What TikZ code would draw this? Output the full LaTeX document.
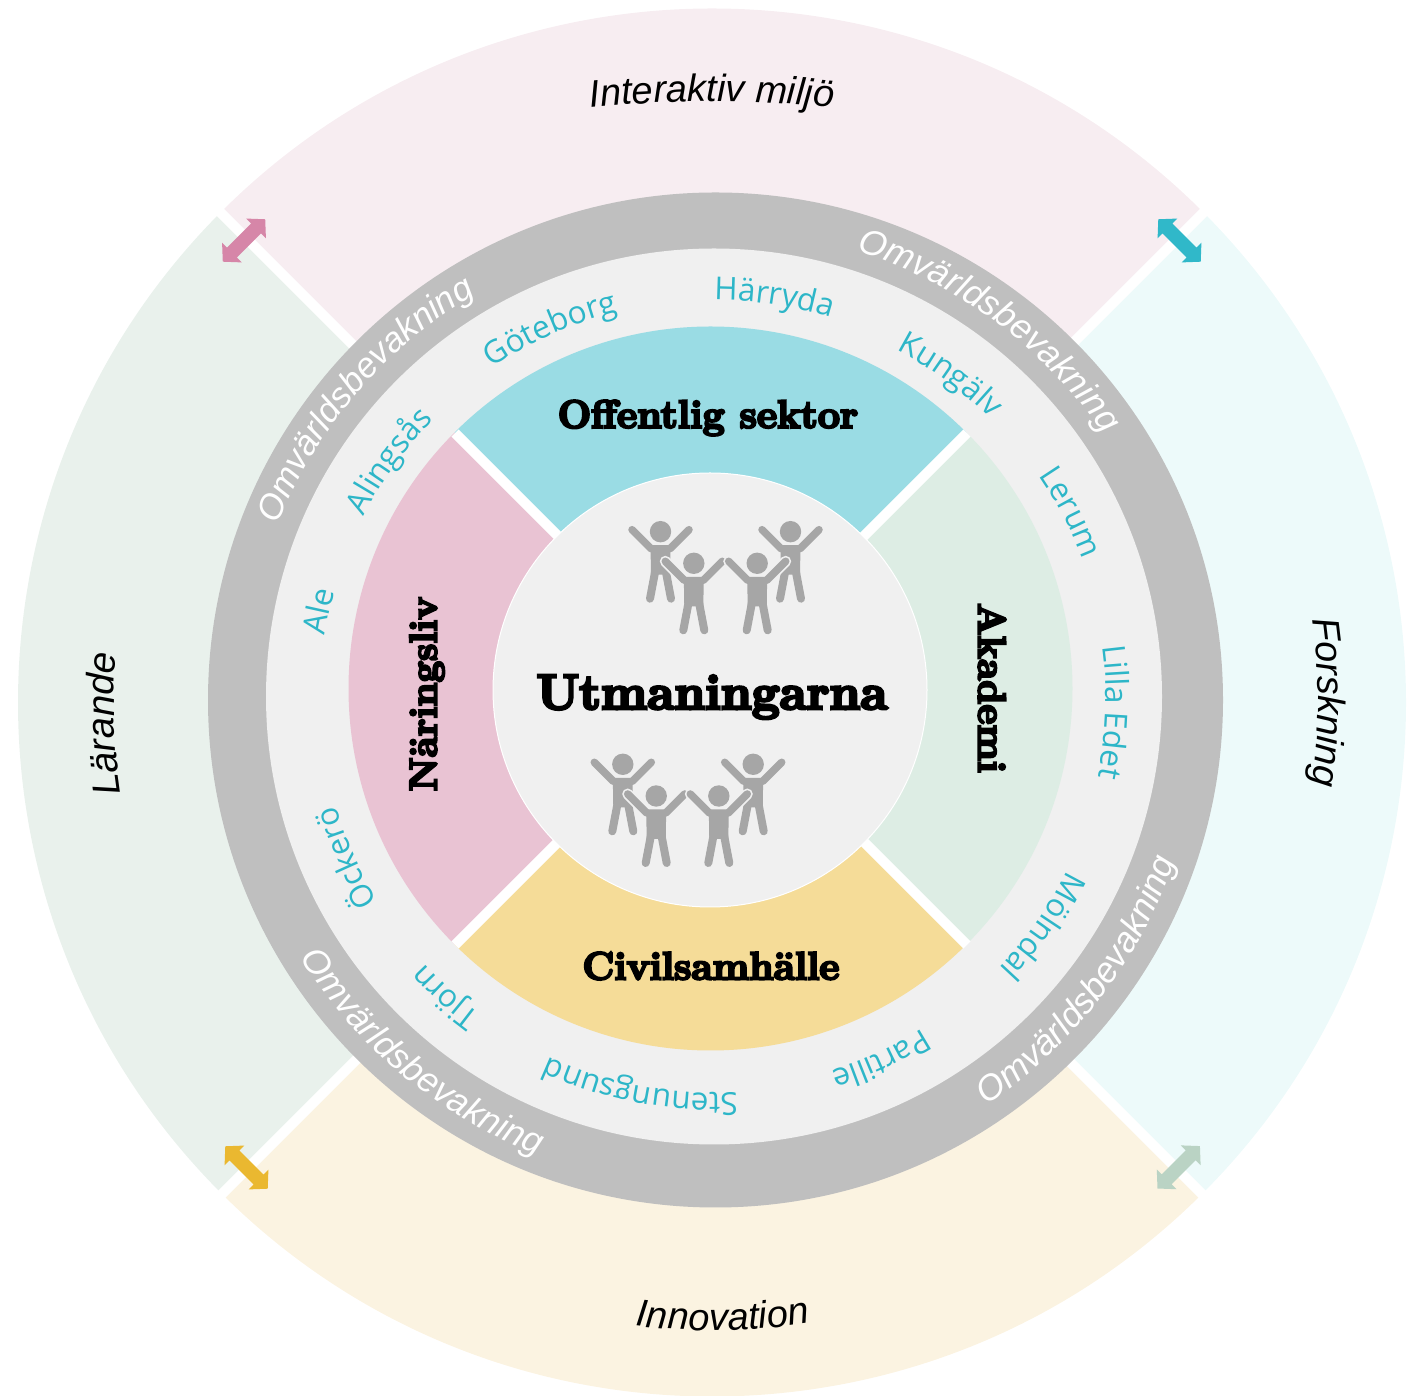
\documentclass[tikz,border=0pt]{standalone}
\usepackage{fontspec}
\setmainfont{Liberation Sans}
\newfontfamily\cityfont{Open Sans}
\usetikzlibrary{decorations.text}

\definecolor{citycol}{HTML}{2DB6C8}
\definecolor{ringcol}{HTML}{BFBFBF}
\definecolor{personcol}{HTML}{A6A6A6}
\definecolor{hubcol}{HTML}{F0F0F0}

% text on a circle: #1 angle, #2 radius, #3 half span, #4 text
\newcommand{\cwtext}[4]{\path[decorate, decoration={text along path, text align=center, text={#4}}] (#1+#3:#2) arc (#1+#3:#1-#3:#2);}
\newcommand{\ccwtext}[4]{\path[decorate, decoration={text along path, text align=center, text={#4}}] (#1-#3:#2) arc (#1-#3:#1+#3:#2);}

\begin{document}
\begin{tikzpicture}[
    x=1pt, y=1pt,
    gap/.style={draw=white, line width=10pt},
    title/.style={font={\font\fatbase="Latin Modern Roman/B:embolden=6" at #1pt \fatbase}, text=black, inner sep=0pt},
    dbl/.pic={
        \fill (-30,0) -- (-17,14) -- (-17,7) -- (17,7) -- (17,14) -- (30,0) -- (17,-14) -- (17,-7) -- (-17,-7) -- (-17,-14) -- cycle;
    },
    person/.pic={
        \draw[hubcol, line width=11pt, line cap=round] (-28,2) -- (-9,-17) (29,2) -- (10,-17);
        \fill[personcol] (0.5,0) circle (10.7pt);
        \draw[personcol, line width=7.5pt, line cap=round] (-28,2) -- (-9,-17) (29,2) -- (10,-17);
        \fill[personcol] (-9.5,-13.5) -- (10.5,-13.5) -- (10,-43) -- (-9,-43) -- cycle;
        \draw[personcol, line width=8pt, line cap=round] (-4.5,-38) -- (-10,-67) (5.5,-38) -- (11,-67);
    }
]
\useasboundingbox (0,0) rectangle (1419,1395);

% outer sectors
\coordinate (outer) at (712,692.5);
\fill[fill={rgb,255:red,247;green,237;blue,241}] (outer) -- +(45:694) arc (45:135:694) -- cycle;
\fill[fill={rgb,255:red,233;green,241;blue,236}] (outer) -- +(135:694) arc (135:225:694) -- cycle;
\fill[fill={rgb,255:red,251;green,243;blue,225}] (outer) -- +(225:694) arc (225:315:694) -- cycle;
\fill[fill={rgb,255:red,237;green,250;blue,250}] (outer) -- +(315:694) arc (315:405:694) -- cycle;
\coordinate (outergap) at (712,691);
\draw[gap] (outergap) -- +(45:720);
\draw[gap] (outergap) -- +(135:720);
\draw[gap] (outergap) -- +(225:720);
\draw[gap] (outergap) -- +(315:720);

% rings
\fill[ringcol] (715.5,695) circle (507.5pt);
\fill[hubcol] (714,698.5) circle (448pt);

% inner sectors
\coordinate (inner) at (710.5,706.5);
\fill[fill={rgb,255:red,154;green,220;blue,228}] (inner) -- +(45:362) arc (45:135:362) -- cycle;
\fill[fill={rgb,255:red,233;green,195;blue,211}] (inner) -- +(135:362) arc (135:225:362) -- cycle;
\fill[fill={rgb,255:red,245;green,220;blue,152}] (inner) -- +(225:362) arc (225:315:362) -- cycle;
\fill[fill={rgb,255:red,221;green,237;blue,228}] (inner) -- +(315:362) arc (315:405:362) -- cycle;
\coordinate (innergap) at (711,706);
\draw[gap] (innergap) -- +(45:362);
\draw[gap] (innergap) -- +(135:362);
\draw[gap] (innergap) -- +(225:362);
\draw[gap] (innergap) -- +(315:362);

% hub
\fill[hubcol, draw=white, line width=1pt] (710,705) circle (217pt);

\pic at (660,863.3) {person};
\pic at (790,863.3) {person};
\pic at (693.3,831.7) {person};
\pic at (756.7,831.7) {person};
\pic at (622.3,630.7) {person};
\pic at (752.7,630.7) {person};
\pic at (655.7,599) {person};
\pic at (718.3,599) {person};

% titles
\node[title=49.5] (hub) at (712,698) {Utmaningarna};
\node[title=39.4] (offentlig) at (708,977) {Offentlig sektor};
\node[title=39] (civil) at (711,429) {Civilsamhälle};
\node[title=38.5, rotate=90] (naring) at (427,701) {Näringsliv};
\node[title=38.8, rotate=-90] (akademi) at (992,707) {Akademi};

% arrows
\pic[fill={rgb,255:red,214;green,134;blue,168}, rotate=45] (arrowTL) at (244,1154.5) {dbl};
\pic[fill={rgb,255:red,48;green,184;blue,201}, rotate=-45] (arrowTR) at (1179.5,1154.5) {dbl};
\pic[fill={rgb,255:red,234;green,184;blue,48}, rotate=-45] (arrowBL) at (246.5,227.5) {dbl};
\pic[fill={rgb,255:red,186;green,211;blue,196}, rotate=45] (arrowBR) at (1178.7,227.7) {dbl};

% curved texts
\begin{scope}[shift={(714.5,695)}]
\cwtext{139.3}{471}{30}{|\color{white}\itshape\fontsize{35}{40}\selectfont|Omvärldsbevakning}
\cwtext{53.4}{471}{30}{|\color{white}\itshape\fontsize{35.5}{40}\selectfont|Omvärldsbevakning}
\ccwtext{-37.7}{488}{30}{|\color{white}\itshape\fontsize{35.5}{40}\selectfont|Omvärldsbevakning}
\ccwtext{230.3}{488}{30}{|\color{white}\itshape\fontsize{35.5}{40}\selectfont|Omvärldsbevakning}
\end{scope}

\begin{scope}[shift={(714,697)}]
\cwtext{143.9}{395}{25}{|\color{citycol}\cityfont\fontsize{31.5}{36}\selectfont|Alingsås}
\cwtext{113.9}{398}{25}{|\color{citycol}\cityfont\fontsize{31.5}{36}\selectfont|Göteborg}
\cwtext{81.4}{398}{25}{|\color{citycol}\cityfont\fontsize{31.5}{36}\selectfont|Härryda}
\cwtext{53.8}{393}{25}{|\color{citycol}\cityfont\fontsize{31.5}{36}\selectfont|Kungälv}
\cwtext{27.5}{394}{25}{|\color{citycol}\cityfont\fontsize{31.5}{36}\selectfont|Lerum}
\cwtext{-2}{392}{25}{|\color{citycol}\cityfont\fontsize{31.5}{36}\selectfont|Lilla Edet}
\cwtext{-34.8}{393}{25}{|\color{citycol}\cityfont\fontsize{31.5}{36}\selectfont|Mölndal}
\cwtext{-65.2}{391}{25}{|\color{citycol}\cityfont\fontsize{31.5}{36}\selectfont|Partille}
\cwtext{-100.7}{395}{25}{|\color{citycol}\cityfont\fontsize{31.5}{36}\selectfont|Stenungsund}
\cwtext{-132}{393}{25}{|\color{citycol}\cityfont\fontsize{31.5}{36}\selectfont|Tjörn}
\cwtext{-156.5}{393}{25}{|\color{citycol}\cityfont\fontsize{31.5}{36}\selectfont|Öckerö}
\cwtext{167.6}{394}{25}{|\color{citycol}\cityfont\fontsize{31.5}{36}\selectfont|Ale}
\end{scope}

\begin{scope}[shift={(712,93.5)}]
\cwtext{90}{1200}{8}{|\itshape\fontsize{38}{44}\selectfont|Interaktiv miljö}
\end{scope}
\begin{scope}[shift={(712,692.5)}]
\ccwtext{-89}{628}{25}{|\itshape\fontsize{38}{44}\selectfont|Innovation}
\cwtext{182}{598}{25}{|\itshape\fontsize{38.5}{44}\selectfont|Lärande}
\cwtext{0}{606}{25}{|\itshape\fontsize{38}{44}\selectfont|Forskning}
\end{scope}
\end{tikzpicture}
\end{document}
